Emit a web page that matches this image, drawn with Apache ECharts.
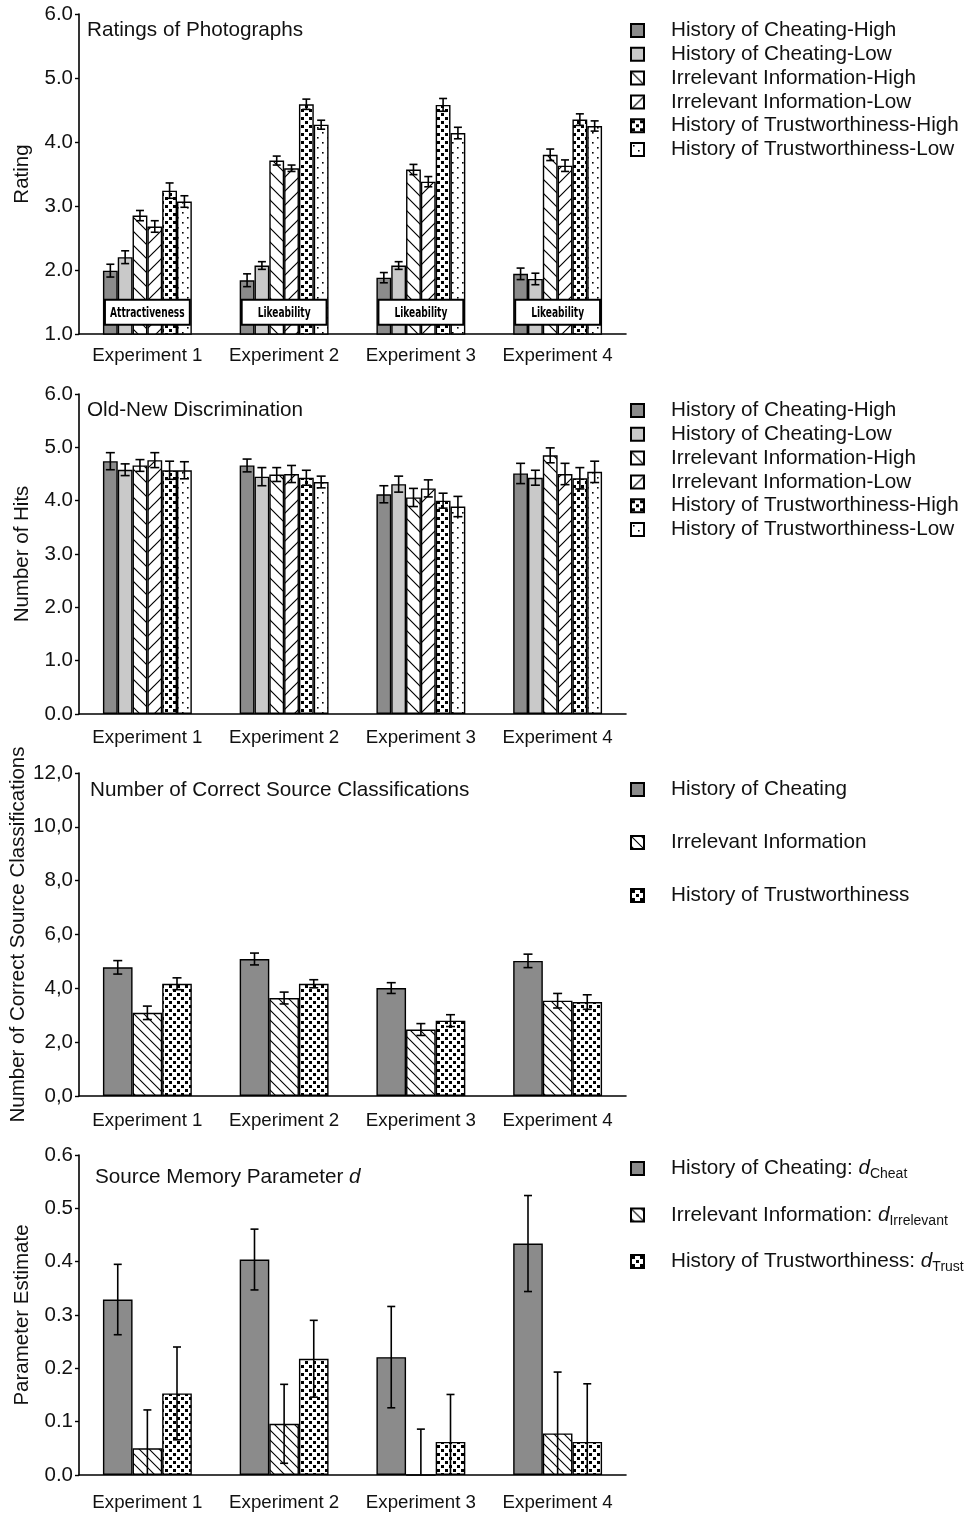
<!DOCTYPE html>
<html><head><meta charset="utf-8">
<script src="https://cdn.jsdelivr.net/npm/echarts@6/dist/echarts.min.js"></script>
<style>html,body{margin:0;padding:0;background:#fff}#c{width:967px;height:1514px}</style>
</head><body><div id="c"></div>
<script>
// ---------- DATA ----------
const categories = ['Experiment 1','Experiment 2','Experiment 3','Experiment 4'];
const names6 = ['History of Cheating-High','History of Cheating-Low','Irrelevant Information-High','Irrelevant Information-Low','History of Trustworthiness-High','History of Trustworthiness-Low'];
const names3 = ['History of Cheating','Irrelevant Information','History of Trustworthiness'];
const names4 = ['History of Cheating: dCheat','Irrelevant Information: dIrrelevant','History of Trustworthiness: dTrust'];
const boxLabels = ['Attractiveness','Likeability','Likeability','Likeability'];

// Panel 1: Ratings of Photographs
const ratCheatHigh = [1.99, 1.84, 1.88, 1.94];
const ratCheatLow  = [2.20, 2.07, 2.07, 1.86];
const ratIrrHigh   = [2.85, 3.71, 3.57, 3.80];
const ratIrrLow    = [2.68, 3.59, 3.38, 3.63];
const ratTrustHigh = [3.24, 4.59, 4.58, 4.35];
const ratTrustLow  = [3.07, 4.27, 4.14, 4.25];
const ratErrCheatHigh = [0.10, 0.10, 0.08, 0.09];
const ratErrCheatLow  = [0.10, 0.06, 0.06, 0.09];
const ratErrIrrHigh   = [0.08, 0.07, 0.08, 0.09];
const ratErrIrrLow    = [0.09, 0.05, 0.08, 0.09];
const ratErrTrustHigh = [0.12, 0.08, 0.10, 0.09];
const ratErrTrustLow  = [0.09, 0.07, 0.09, 0.08];

// Panel 2: Old-New Discrimination
const hitCheatHigh = [4.74, 4.66, 4.12, 4.51];
const hitCheatLow  = [4.58, 4.45, 4.31, 4.43];
const hitIrrHigh   = [4.66, 4.49, 4.06, 4.85];
const hitIrrLow    = [4.76, 4.50, 4.23, 4.50];
const hitTrustHigh = [4.57, 4.43, 4.00, 4.42];
const hitTrustLow  = [4.57, 4.35, 3.89, 4.54];
const hitErrCheatHigh = [0.16, 0.12, 0.16, 0.19];
const hitErrCheatLow  = [0.11, 0.17, 0.15, 0.14];
const hitErrIrrHigh   = [0.11, 0.13, 0.17, 0.14];
const hitErrIrrLow    = [0.14, 0.16, 0.16, 0.20];
const hitErrTrustHigh = [0.17, 0.14, 0.14, 0.20];
const hitErrTrustLow  = [0.16, 0.11, 0.19, 0.20];

// Panel 3: Number of Correct Source Classifications
const srcCheat = [4.78, 5.09, 4.01, 5.02];
const srcIrr   = [3.09, 3.64, 2.47, 3.54];
const srcTrust = [4.17, 4.17, 2.80, 3.49];
const srcErrCheat = [0.25, 0.22, 0.20, 0.25];
const srcErrIrr   = [0.25, 0.22, 0.22, 0.27];
const srcErrTrust = [0.22, 0.15, 0.22, 0.27];

// Panel 4: Source Memory Parameter d
const dCheat = [0.329, 0.404, 0.221, 0.434];
const dIrr   = [0.050, 0.096, 0.000, 0.078];
const dTrust = [0.153, 0.218, 0.062, 0.062];
const dErrCheat = [0.066, 0.057, 0.095, 0.090];
const dErrIrr   = [0.072, 0.074, 0.086, 0.115];
const dErrTrust = [0.087, 0.072, 0.089, 0.109];

// y-axis tick settings
const yTicks1 = {min: 1, max: 6, interval: 1};
const yTicks2 = {min: 0, max: 6, interval: 1};
const yTicks3 = {min: 0, max: 12, interval: 2};
const yTicks4 = {min: 0, max: 0.6, interval: 0.1};

// ---------- PATTERNS ----------
function mk(w, h, draw){const c=document.createElement('canvas');c.width=w;c.height=h;const g=c.getContext('2d');g.fillStyle='#fff';g.fillRect(0,0,w,h);g.strokeStyle='#000';g.fillStyle='#000';draw(g,w,h);return {image:c,repeat:'repeat'};}
function back(s,lw){return mk(s,s,(g,w,h)=>{g.lineWidth=lw;g.beginPath();g.moveTo(-2,-2);g.lineTo(w+2,h+2);g.moveTo(-2,h-2);g.lineTo(2,h+2);g.moveTo(w-2,-2);g.lineTo(w+2,2);g.stroke();});}
function fwd(s,lw){return mk(s,s,(g,w,h)=>{g.lineWidth=lw;g.beginPath();g.moveTo(-2,h+2);g.lineTo(w+2,-2);g.moveTo(-2,2);g.lineTo(2,-2);g.moveTo(w-2,h+2);g.lineTo(w+2,h-2);g.stroke();});}
function squares(s,q){return mk(s,s,(g,w,h)=>{g.fillRect(1,1,q,q);g.fillRect(1+s/2,1+s/2,q,q);});}
function dots(s,q){return mk(s,s,(g,w,h)=>{g.fillRect(2,2,q,q);g.fillRect(2+s/2,2+s/2,q,q);});}

const DARK='#8b8b8b', LIGHT='#c9c9c9';
const fills6 = [DARK, LIGHT, back(14,1.2), fwd(14,1.2), squares(8,3), dots(10,1.6)];
const fills3 = [DARK, back(10,1.1), squares(8,3)];

const FONT = 'Liberation Sans, Arial, Helvetica, sans-serif';
const TXT = '#111';
const FS = 20.7;     // legend / title text
const FSY = 20.5;    // y tick labels and names
const FSX = 18.7;    // x category labels
const GAP = 0.35;
const grids = [
  {left:79, width:547, top:14, height:320, outerBoundsMode:'none', containLabel:false},
  {left:79, width:547, top:394, height:320, outerBoundsMode:'none', containLabel:false},
  {left:79, width:547, top:773, height:323, outerBoundsMode:'none', containLabel:false},
  {left:79, width:547, top:1155, height:320, outerBoundsMode:'none', containLabel:false}
];

function errSeries(gi, pos, n, vals, errs, cap){
  return {
    type:'custom', xAxisIndex:gi, yAxisIndex:gi, z:5, silent:true,
    data: vals.map((v,i)=>[i, v, errs[i]]),
    renderItem:function(params, api){
      const i=api.value(0), v=api.value(1), e=api.value(2);
      const band=api.size([1,0])[0];
      const bw=band*(1-GAP)/n;
      const x=api.coord([i,v])[0]+(pos-(n-1)/2)*bw;
      const yT=api.coord([i,v+e])[1];
      const low=Math.max(v-e,0);
      const yB=api.coord([i,low])[1];
      const st={stroke:'#000', lineWidth:1.6};
      const ch=[{type:'line',shape:{x1:x,y1:yT,x2:x,y2:yB},style:st},
                {type:'line',shape:{x1:x-cap/2,y1:yT,x2:x+cap/2,y2:yT},style:st}];
      if(v-e>0) ch.push({type:'line',shape:{x1:x-cap/2,y1:yB,x2:x+cap/2,y2:yB},style:st});
      return {type:'group',children:ch};
    }
  };
}
function barSeries(gi, name, vals, fill){
  return {type:'bar', name:name, xAxisIndex:gi, yAxisIndex:gi, data:vals, barGap:'0%', barCategoryGap:(GAP*100)+'%',
    itemStyle:{color:fill, borderColor:'#000', borderWidth:1.4}, emphasis:{disabled:true}};
}

const series=[];
const p1=[ratCheatHigh,ratCheatLow,ratIrrHigh,ratIrrLow,ratTrustHigh,ratTrustLow];
const e1=[ratErrCheatHigh,ratErrCheatLow,ratErrIrrHigh,ratErrIrrLow,ratErrTrustHigh,ratErrTrustLow];
const p2=[hitCheatHigh,hitCheatLow,hitIrrHigh,hitIrrLow,hitTrustHigh,hitTrustLow];
const e2=[hitErrCheatHigh,hitErrCheatLow,hitErrIrrHigh,hitErrIrrLow,hitErrTrustHigh,hitErrTrustLow];
const p3=[srcCheat,srcIrr,srcTrust], e3=[srcErrCheat,srcErrIrr,srcErrTrust];
const p4=[dCheat,dIrr,dTrust], e4=[dErrCheat,dErrIrr,dErrTrust];
p1.forEach((v,k)=>series.push(barSeries(0,names6[k],v,fills6[k])));
p2.forEach((v,k)=>series.push(barSeries(1,names6[k],v,fills6[k])));
p3.forEach((v,k)=>series.push(barSeries(2,names3[k],v,fills3[k])));
p4.forEach((v,k)=>series.push(barSeries(3,names4[k],v,fills3[k])));
p1.forEach((v,k)=>series.push(errSeries(0,k,6,v,e1[k],8)));
p2.forEach((v,k)=>series.push(errSeries(1,k,6,v,e2[k],9)));
p3.forEach((v,k)=>series.push(errSeries(2,k,3,v,e3[k],9)));
p4.forEach((v,k)=>series.push(errSeries(3,k,3,v,e4[k],8)));
// label boxes in panel 1
series.push({type:'custom', xAxisIndex:0, yAxisIndex:0, z:8, silent:true,
  data: boxLabels.map((t,i)=>[i,1.34,t]),
  renderItem:function(params, api){
    const i=api.value(0);
    const c=api.coord([i,api.value(1)]);
    const band=api.size([1,0])[0];
    const w=band*(1-GAP)-4, h=25;
    return {type:'group',children:[
      {type:'rect',shape:{x:c[0]-w/2,y:c[1]-h/2,width:w,height:h},style:{fill:'#fff',stroke:'#000',lineWidth:2}},
      {type:'text',x:c[0],y:c[1]+1,scaleX:0.72,scaleY:1,
        style:{x:0,y:0,text:boxLabels[i],textAlign:'center',textVerticalAlign:'middle',
        font:'bold 14px "DejaVu Sans Condensed", "DejaVu Sans", sans-serif',fill:'#000'}}
    ]};
  }
});

function yAxis(gi, t, name, gap, fmt){
  return {type:'value', gridIndex:gi, min:t.min, max:t.max, interval:t.interval,
    name:name, nameLocation:'middle', nameGap:gap, nameMoveOverlap:false, nameTextStyle:{fontSize:FSY,color:TXT,fontFamily:FONT},
    axisLine:{show:true,lineStyle:{color:'#000',width:1.6}}, axisTick:{show:true,length:4,lineStyle:{color:'#000',width:1.4}},
    splitLine:{show:false}, axisLabel:{fontSize:FSY,color:TXT,fontFamily:FONT,margin:6,formatter:fmt}};
}
function xAxis(gi, margin){
  return {type:'category', gridIndex:gi, data:categories,
    axisLine:{show:true,lineStyle:{color:'#000',width:1.6}}, axisTick:{show:false},
    axisLabel:{fontSize:FSX,color:TXT,fontFamily:FONT,margin:margin,interval:0}};
}
function legend(names, top, gap, fmt){
  const l={orient:'vertical', left:630, top:top, itemWidth:13, itemHeight:13, itemGap:gap, icon:'rect', padding:0,
    data:names, selectedMode:false,
    textStyle:{fontSize:FS,color:TXT,fontFamily:FONT,lineHeight:20,padding:[0,0,0,22]}};
  if(fmt){l.formatter=fmt.f; l.textStyle.rich=fmt.rich;}
  return l;
}
const subFmt={
  f:function(name){
    const i=names4.indexOf(name);
    const base=['History of Cheating: ','Irrelevant Information: ','History of Trustworthiness: '][i];
    const sub=['Cheat','Irrelevant','Trust'][i];
    return '{t|'+base+'}{i|d}{s|'+sub+'}';
  },
  rich:{t:{fontSize:FS,fontFamily:FONT,color:TXT},i:{fontSize:FS,fontStyle:'italic',fontFamily:FONT,color:TXT},
        s:{fontSize:14,fontFamily:FONT,color:TXT,padding:[12,0,0,0]}}
};
const tStyle={fontSize:FS,fontWeight:'normal',color:TXT,fontFamily:FONT};
const option={
  animation:false,
  grid:grids,
  title:[
    {text:'Ratings of Photographs',left:87,top:20,padding:0,textStyle:tStyle},
    {text:'Old-New Discrimination',left:87,top:400,padding:0,textStyle:tStyle},
    {text:'Number of Correct Source Classifications',left:90,top:780,padding:0,textStyle:tStyle},
    {text:'{a|Source Memory Parameter }{b|d}',left:95,top:1167,padding:0,
     textStyle:{fontWeight:'normal',rich:{a:{fontSize:FS,fontWeight:'normal',color:TXT,fontFamily:FONT},b:{fontSize:FS,fontWeight:'normal',fontStyle:'italic',color:TXT,fontFamily:FONT}}}}
  ],
  legend:[
    legend(names6,20,2.8),
    legend(names6,400,2.8),
    legend(names3,779,32),
    legend(names4,1158,23,subFmt)
  ],
  xAxis:[xAxis(0,12),xAxis(1,14),xAxis(2,15),xAxis(3,18)],
  yAxis:[
    yAxis(0,yTicks1,'Rating',46,v=>v.toFixed(1)),
    yAxis(1,yTicks2,'Number of Hits',46,v=>v.toFixed(1)),
    yAxis(2,yTicks3,'Number of Correct Source Classifications',50,v=>v.toFixed(1).replace('.',',')),
    yAxis(3,yTicks4,'Parameter Estimate',46,v=>v.toFixed(1))
  ],
  series:series
};
const chart=echarts.init(document.getElementById('c'),null,{renderer:'canvas'});
chart.setOption(option);
</script></body></html>
